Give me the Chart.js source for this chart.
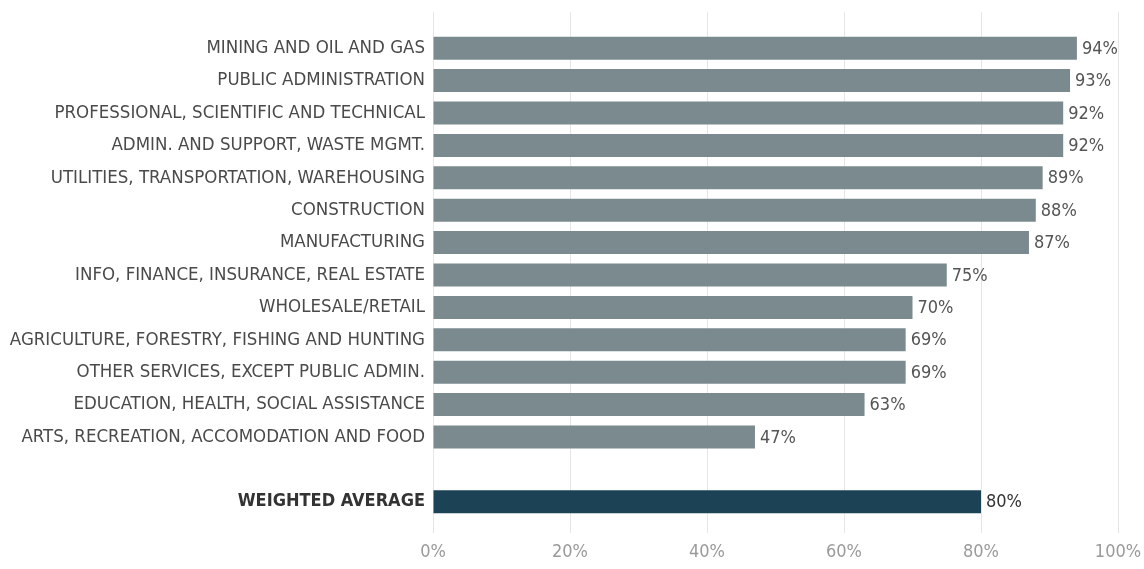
<!DOCTYPE html>
<html>
<head>
<meta charset="utf-8">
<script src="https://cdn.jsdelivr.net/npm/chart.js@4.4.1/dist/chart.umd.min.js"></script>
<style>
  html, body { margin: 0; padding: 0; background: #fff; }
  #wrap { width: 1144px; height: 569px; position: relative; }
</style>
</head>
<body>
<div id="wrap"><canvas id="chart"></canvas></div>
<script>
// industry rows, top to bottom; '' is the spacer row before the average
const industries = [
  'MINING AND OIL AND GAS',
  'PUBLIC ADMINISTRATION',
  'PROFESSIONAL, SCIENTIFIC AND TECHNICAL',
  'ADMIN. AND SUPPORT, WASTE MGMT.',
  'UTILITIES, TRANSPORTATION, WAREHOUSING',
  'CONSTRUCTION',
  'MANUFACTURING',
  'INFO, FINANCE, INSURANCE, REAL ESTATE',
  'WHOLESALE/RETAIL',
  'AGRICULTURE, FORESTRY, FISHING AND HUNTING',
  'OTHER SERVICES, EXCEPT PUBLIC ADMIN.',
  'EDUCATION, HEALTH, SOCIAL ASSISTANCE',
  'ARTS, RECREATION, ACCOMODATION AND FOOD',
  '',
  'WEIGHTED AVERAGE',
];
const shares = [94, 93, 92, 92, 89, 88, 87, 75, 70, 69, 69, 63, 47, null, 80];
const xTicks = [0, 20, 40, 60, 80, 100];

const FONT = '"Liberation Sans Narrow", "DejaVu Sans Condensed", "Roboto", sans-serif';
const BAR = '#7a8a8e';
const AVG = '#1c4256';
const AVG_INDEX = industries.length - 1;

const valueLabels = {
  id: 'valueLabels',
  afterDatasetsDraw(chart) {
    const ctx = chart.ctx;
    const meta = chart.getDatasetMeta(0);
    ctx.save();
    ctx.textBaseline = 'middle';
    ctx.textAlign = 'left';
    ctx.font = '18px ' + FONT;
    meta.data.forEach((bar, i) => {
      const v = shares[i];
      if (v == null) return;
      ctx.fillStyle = i === AVG_INDEX ? '#333' : '#555';
      ctx.fillText(v + '%', bar.x + 5, bar.y + 1);
    });
    ctx.restore();
  },
};

new Chart(document.getElementById('chart'), {
  type: 'bar',
  data: {
    labels: industries,
    datasets: [{
      data: shares,
      backgroundColor: shares.map((v, i) => (i === AVG_INDEX ? AVG : BAR)),
      categoryPercentage: 1,
      barPercentage: 0.71,
      xAxisID: 'x',
    }],
  },
  options: {
    indexAxis: 'y',
    responsive: true,
    maintainAspectRatio: false,
    animation: false,
    layout: { padding: { left: 0, right: 26, top: 0, bottom: 0 } },
    plugins: { legend: { display: false }, tooltip: { enabled: false } },
    scales: {
      x: {
        position: 'bottom',
        min: 0,
        max: 100,
        afterBuildTicks: (s) => { s.ticks = xTicks.map((v) => ({ value: v })); },
        afterFit: (s) => { s.height = 51; s.paddingLeft = 0; s.paddingRight = 0; },
        border: { display: false },
        grid: { color: '#e6e6e6', lineWidth: 1, tickLength: 15 },
        ticks: {
          color: '#9a9a9a',
          padding: 9,
          maxRotation: 0,
          font: { family: FONT, size: 18 },
          callback: (v) => v + '%',
        },
      },
      xTop: {
        position: 'top',
        min: 0,
        max: 100,
        afterBuildTicks: (s) => { s.ticks = xTicks.map((v) => ({ value: v })); },
        afterFit: (s) => { s.height = 32; s.paddingLeft = 0; s.paddingRight = 0; },
        border: { display: false },
        grid: { color: '#e6e6e6', lineWidth: 1, tickLength: 20, drawOnChartArea: false },
        ticks: { display: false },
      },
      y: {
        afterFit: (s) => { s.width = 433; s.paddingTop = 0; s.paddingBottom = 0; },
        border: { display: false },
        grid: { display: false, drawTicks: false },
        ticks: {
          padding: 8,
          color: (c) => (c.index === AVG_INDEX ? '#333' : '#4a4a4a'),
          font: (c) => ({
            family: FONT,
            size: c.index === AVG_INDEX ? 18 : 18.5,
            weight: c.index === AVG_INDEX ? 'bold' : 'normal',
          }),
        },
      },
    },
  },
  plugins: [valueLabels],
});
</script>
</body>
</html>
